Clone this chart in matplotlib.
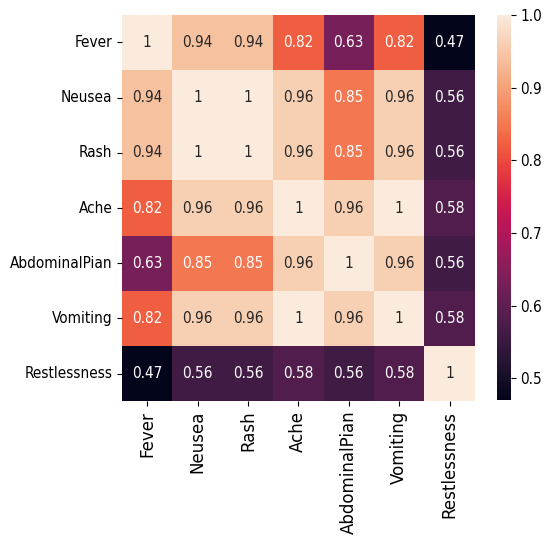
import numpy as np
import pandas as pd
import matplotlib
matplotlib.use("Agg")
import matplotlib.pyplot as plt
import seaborn as sns

# Symptom correlation matrix
symptoms = ["Fever", "Neusea", "Rash", "Ache", "AbdominalPian", "Vomiting", "Restlessness"]
fever = [1, 0.94, 0.94, 0.82, 0.63, 0.82, 0.47]
neusea = [0.94, 1, 1, 0.96, 0.85, 0.96, 0.56]
rash = [0.94, 1, 1, 0.96, 0.85, 0.96, 0.56]
ache = [0.82, 0.96, 0.96, 1, 0.96, 1, 0.58]
abdominal = [0.63, 0.85, 0.85, 0.96, 1, 0.96, 0.56]
vomiting = [0.82, 0.96, 0.96, 1, 0.96, 1, 0.58]
restless = [0.47, 0.56, 0.56, 0.58, 0.56, 0.58, 1]

corr = pd.DataFrame([fever, neusea, rash, ache, abdominal, vomiting, restless],
                    index=symptoms, columns=symptoms)

plt.rcParams['font.stretch'] = 'condensed'

fig = plt.figure(figsize=(5.52, 5.51), dpi=100)
ax = fig.add_axes([0.221, 0.272, 0.639, 0.701])
cax = fig.add_axes([0.900, 0.274, 0.025, 0.699])

sns.heatmap(corr, annot=True, ax=ax, cbar_ax=cax, annot_kws={"size": 11})
ax.tick_params(labelsize=11)
cax.tick_params(labelsize=11)
plt.setp(ax.get_xticklabels(), rotation=90, fontsize=12, fontstretch='normal')
plt.setp(ax.get_yticklabels(), rotation=0)

fig.savefig("out.png", dpi=100)
